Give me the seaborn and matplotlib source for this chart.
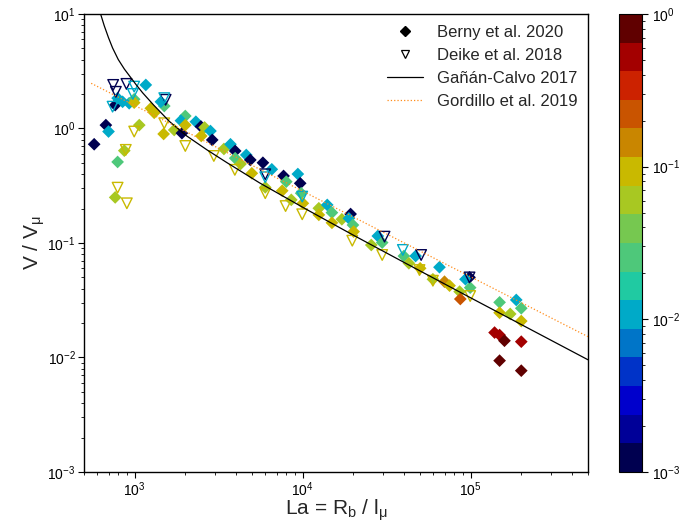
import numpy as np
import pandas as pd
import matplotlib
matplotlib.use("Agg")
import matplotlib.pyplot as plt
import seaborn as sns
from matplotlib.colors import ListedColormap, LogNorm
from matplotlib.lines import Line2D
from matplotlib.cm import ScalarMappable

# ---------------- data ----------------
berny_la = [575, 675, 700, 767, 793, 849, 929, 995, 995, 1167, 1067, 869, 793, 767,
            1250, 1309, 1503, 1435, 1490, 1722, 1914, 2005, 1888, 2005, 2317, 2483,
            2612, 2830, 2495, 2900, 3404, 3724, 3972, 3972, 4276, 4624, 4887, 4990,
            5808, 6561, 5998, 7709, 8000, 9376, 9683, 7568, 8570, 9817, 10046, 12500,
            12500, 14030, 14960, 14960, 17140, 19320, 18880, 19950, 20140, 25650,
            28050, 29790, 40090, 42950, 47100, 50120, 65310, 59700, 69980, 75000,
            86100, 86900, 98600, 93300, 99500, 148900, 148900, 172200, 187100, 200400,
            200400, 139000, 148900, 159200, 200400, 148900, 200400]
berny_v = [0.728, 1.07, 0.94, 1.60, 1.84, 1.71, 1.66, 1.80, 1.68, 2.40, 1.07, 0.64, 0.51, 0.25,
           1.50, 1.37, 1.57, 1.71, 0.895, 0.97, 0.91, 1.285, 1.17, 1.07, 1.145, 1.04,
           1.02, 0.95, 0.86, 0.794, 0.662, 0.728, 0.636, 0.55, 0.49, 0.587, 0.531, 0.406,
           0.502, 0.44, 0.306, 0.385, 0.343, 0.40, 0.332, 0.286, 0.238, 0.272, 0.222, 0.201,
           0.176, 0.215, 0.184, 0.150, 0.161, 0.179, 0.164, 0.1435, 0.1256, 0.096,
           0.115, 0.1007, 0.0769, 0.0665, 0.0769, 0.0601, 0.0614, 0.0482, 0.0459, 0.0424,
           0.0376, 0.0324, 0.0501, 0.0482, 0.0407, 0.0303, 0.0246, 0.024, 0.0318, 0.0269,
           0.0208, 0.0165, 0.0157, 0.014, 0.01374, 0.00938, 0.00767]
berny_c = [0.0012, 0.0012, 0.011, 0.0012, 0.011, 0.011, 0.011, 0.026, 0.093, 0.011, 0.06, 0.06, 0.026, 0.06,
           0.093, 0.093, 0.026, 0.011, 0.093, 0.06, 0.0012, 0.026, 0.011, 0.093, 0.011, 0.0012,
           0.06, 0.011, 0.093, 0.0012, 0.06, 0.011, 0.0012, 0.026, 0.06, 0.011, 0.0012, 0.093,
           0.0012, 0.011, 0.06, 0.0012, 0.026, 0.011, 0.0012, 0.093, 0.06, 0.026, 0.093, 0.06,
           0.093, 0.011, 0.026, 0.093, 0.06, 0.0012, 0.011, 0.026, 0.093, 0.06,
           0.011, 0.026, 0.026, 0.06, 0.011, 0.093, 0.011, 0.06, 0.14, 0.093,
           0.06, 0.22, 0.0012, 0.011, 0.026, 0.026, 0.093, 0.06, 0.011, 0.026,
           0.093, 0.5, 0.5, 0.8, 0.5, 0.8, 0.8]

deike_la = [746, 774, 740, 895, 995, 977, 1531, 1503, 1503, 995, 887, 793, 900, 2005,
            2965, 3954, 5998, 5998, 5998, 7925, 9954, 9954, 19770, 30760, 29790,
            39540, 50800, 49660, 59700, 98600, 99500]
deike_v = [2.40, 2.09, 1.55, 2.45, 2.32, 2.00, 1.78, 1.84, 1.11, 0.94, 0.65, 0.304, 0.222, 0.703,
           0.575, 0.435, 0.398, 0.375, 0.272, 0.21, 0.254, 0.178, 0.1047, 0.1135, 0.0785,
           0.0869, 0.0785, 0.058, 0.0468, 0.050, 0.0344]
deike_c = [0.0012, 0.0012, 0.011, 0.0012, 0.011, 0.011, 0.0012, 0.011, 0.093, 0.093, 0.093, 0.093, 0.093, 0.093,
           0.093, 0.093, 0.0012, 0.011, 0.093, 0.093, 0.011, 0.093, 0.093, 0.0012, 0.093,
           0.011, 0.0012, 0.093, 0.093, 0.0012, 0.093]

ganan_la = [589, 610, 631, 660, 700, 740, 800, 870, 933, 1020, 1117, 1300, 1614, 2042,
            2700, 3532, 5546, 10520, 19950, 41400, 103300, 500000]
ganan_v = [13.8, 11.5, 9.77, 7.9, 6.2, 5.05, 4.0, 3.3, 2.88, 2.42, 2.05, 1.60, 1.15, 0.861,
           0.65, 0.505, 0.335, 0.197, 0.1175, 0.0661, 0.0324, 0.00955]

gordillo_la = [552, 500000]
gordillo_v = [2.48, 0.0152]

cbar_colors = ['#000050', '#000098', '#0000cc', '#0033c8', '#0075c8', '#00aac8', '#20caa2', '#4ec87a',
               '#76c850', '#a8c822', '#c9b900', '#c98600', '#c95400', '#cc2200', '#a30000', '#600000']
c_min, c_max = 1e-3, 1.0

# ---------------- style ----------------
sns.set_style("ticks")
plt.rcParams['font.family'] = ['Liberation Sans', 'DejaVu Sans']
plt.rcParams['mathtext.default'] = 'regular'
plt.rcParams['axes.edgecolor'] = 'black'
plt.rcParams['xtick.color'] = 'black'
plt.rcParams['ytick.color'] = 'black'

fig = plt.figure(figsize=(6.81, 5.25), dpi=100)
ax = fig.add_axes([0.1233, 0.1010, 0.7401, 0.8724])
cax = fig.add_axes([0.909, 0.1010, 0.0338, 0.8724])
ax.set_xscale('log')
ax.set_yscale('log')

cmap = ListedColormap(cbar_colors)
norm = LogNorm(c_min, c_max)

df_b = pd.DataFrame({'La': berny_la, 'V': berny_v, 'c': berny_c})
df_d = pd.DataFrame({'La': deike_la, 'V': deike_v, 'c': deike_c})

sns.scatterplot(data=df_b, x='La', y='V', hue='c', hue_norm=norm, palette=cmap,
                marker='D', s=42, linewidth=0, legend=False, ax=ax, zorder=2)
sns.scatterplot(data=df_d, x='La', y='V', hue='c', hue_norm=norm, palette=cmap,
                marker='v', s=58, linewidth=1.0, legend=False, ax=ax, zorder=2.5)
coll = ax.collections[-1]
fc = coll.get_facecolors().copy()
coll.set_facecolor('none')
coll.set_edgecolor(fc)
coll.set_linewidth(1.0)

sns.lineplot(x=ganan_la, y=ganan_v, sort=False, estimator=None, color='black',
             linewidth=0.9, ax=ax, zorder=3)
sns.lineplot(x=gordillo_la, y=gordillo_v, sort=False, estimator=None, color='#ff8c1a',
             linewidth=0.9, linestyle=':', ax=ax, zorder=3)

ax.set_xlim(500, 5e5)
ax.set_ylim(1e-3, 10)
for s in ax.spines.values():
    s.set_visible(True)
    s.set_linewidth(1.0)
ax.tick_params(which='major', direction='out', length=4, width=0.8, labelsize=10, pad=2)
ax.tick_params(which='minor', direction='out', length=2.5, width=0.6)
ax.set_xlabel('La = R$_b$ / l$_μ$', fontsize=15, labelpad=-1)
ax.set_ylabel('V / V$_μ$', fontsize=15, labelpad=0)

handles = [
    Line2D([], [], marker='D', color='black', linestyle='none', markersize=5),
    Line2D([], [], marker='v', markerfacecolor='none', markeredgecolor='black',
           linestyle='none', markersize=6, markeredgewidth=0.9),
    Line2D([], [], color='black', linewidth=0.9),
    Line2D([], [], color='#ff8c1a', linewidth=0.9, linestyle=':'),
]
labels = ['Berny et al. 2020', 'Deike et al. 2018', 'Gañán-Calvo 2017', 'Gordillo et al. 2019']
ax.legend(handles, labels, loc='upper right', frameon=False, fontsize=12,
          handlelength=2.2, handletextpad=0.8, labelspacing=0.48, borderaxespad=0.25)

sm = ScalarMappable(norm=norm, cmap=cmap)
cb = fig.colorbar(sm, cax=cax)
cb.minorticks_on()
cb.outline.set_linewidth(0.8)
cax.tick_params(which='major', length=4, width=0.8, labelsize=10)
cax.tick_params(which='minor', length=2.5, width=0.6)

fig.savefig('out.png', dpi=100)
